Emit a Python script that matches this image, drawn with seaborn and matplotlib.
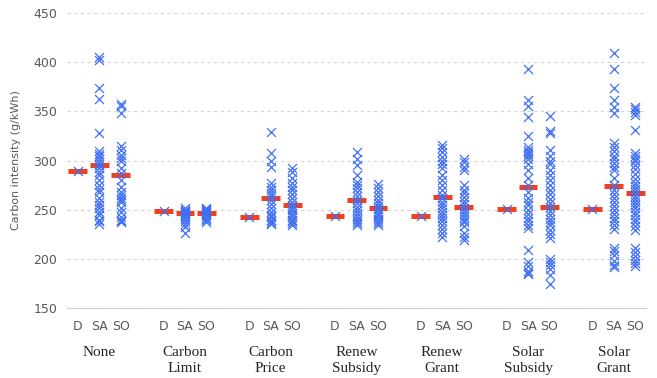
import pandas as pd
import matplotlib.pyplot as plt
import matplotlib.transforms as mtransforms
import seaborn as sns

# Groups and sub categories
groups = ['None', 'Carbon\nLimit', 'Carbon\nPrice', 'Renew\nSubsidy', 'Renew\nGrant', 'Solar\nSubsidy', 'Solar\nGrant']
subs = ['D', 'SA', 'SO']

# Scenario results (g/kWh)
none_d = [289]
none_sa = [405, 402, 374, 363, 328, 310, 307, 305, 302, 298, 295, 292, 288, 285, 280, 275,
           271, 268, 262, 258, 255, 252, 248, 245, 240, 238, 235]
none_so = [357, 355, 348, 315, 311, 306, 303, 300, 292, 287, 280, 273, 268, 265, 262, 260,
           258, 252, 248, 243, 240, 238, 237]
climit_d = [249]
climit_sa = [252, 250, 249, 248, 247, 246, 245, 244, 243, 241, 238, 235, 232, 226]
climit_so = [252, 251, 250, 249, 248, 247, 246, 245, 243, 241, 239, 237]
cprice_d = [243]
cprice_sa = [329, 308, 300, 293, 277, 273, 270, 267, 264, 260, 256, 252, 248, 245, 243, 240,
             238, 236, 235]
cprice_so = [292, 288, 282, 277, 273, 270, 266, 262, 258, 255, 252, 250, 247, 245, 243, 240,
             238, 236, 234]
rsub_d = [244]
rsub_sa = [309, 302, 295, 285, 278, 275, 272, 268, 264, 260, 257, 253, 250, 247, 244, 241,
           238, 236, 234]
rsub_so = [276, 272, 268, 264, 260, 257, 254, 251, 248, 246, 244, 241, 238, 236, 234]
rgrant_d = [244]
rgrant_sa = [316, 313, 309, 304, 300, 296, 292, 285, 280, 275, 270, 265, 262, 258, 255, 252,
             248, 245, 242, 238, 234, 230, 226, 222]
rgrant_so = [302, 298, 293, 290, 275, 270, 267, 263, 259, 256, 252, 249, 246, 243, 240, 237,
             233, 226, 222, 219]
ssub_d = [251]
ssub_sa = [393, 362, 355, 344, 325, 314, 311, 309, 307, 305, 302, 296, 290, 282, 275, 268,
           262, 258, 255, 250, 246, 242, 238, 234, 231, 209, 197, 193, 188, 186, 185]
ssub_so = [345, 330, 328, 311, 305, 300, 296, 290, 285, 280, 275, 270, 266, 261, 257, 253,
           249, 245, 241, 237, 234, 229, 225, 221, 200, 197, 194, 190, 184, 174]
sgrant_d = [251]
sgrant_sa = [409, 393, 374, 362, 354, 348, 318, 314, 310, 305, 302, 297, 293, 290, 282, 275,
             270, 266, 262, 258, 254, 250, 246, 242, 238, 234, 230, 211, 208, 204, 198, 194, 192]
sgrant_so = [354, 352, 349, 346, 331, 308, 305, 302, 299, 295, 291, 286, 281, 277, 274, 271,
             268, 264, 261, 258, 255, 252, 248, 245, 241, 237, 233, 229, 211, 207, 203, 199,
             196, 193]

# average bars (red)
means = [289, 295, 285,
         249, 247, 247,
         243, 262, 255,
         244, 260, 252,
         244, 263, 253,
         251, 273, 253,
         251, 274, 267]

series = [none_d, none_sa, none_so, climit_d, climit_sa, climit_so,
          cprice_d, cprice_sa, cprice_so, rsub_d, rsub_sa, rsub_so,
          rgrant_d, rgrant_sa, rgrant_so, ssub_d, ssub_sa, ssub_so,
          sgrant_d, sgrant_sa, sgrant_so]

# slot positions: 3 columns per group plus one empty slot between groups
pos = [g * 4 + s for g in range(len(groups)) for s in range(3)]

rows = []
for p, vals in zip(pos, series):
    for v in vals:
        rows.append({'x': p, 'value': v})
df = pd.DataFrame(rows)

sns.set_style('white')
fig = plt.figure(figsize=(6.57, 3.78), dpi=100)
ax = fig.add_axes([67 / 657, 70 / 378, 579 / 657, 295 / 378])

sns.scatterplot(data=df, x='x', y='value', marker='x', color='#4170f2', s=42,
                linewidth=0.9, ax=ax, zorder=3, legend=False)
ax.hlines(means, [p - 0.44 for p in pos], [p + 0.44 for p in pos],
          color='#f0401e', linewidth=3.6, zorder=2)

ax.set_xlim(-0.5, 26.5)
ax.set_ylim(150, 450)
ax.set_yticks(range(150, 451, 50))
ax.yaxis.grid(True, linestyle=(0, (3, 3)), color='#d6d6d6', linewidth=0.8)
ax.set_axisbelow(True)
for side in ['left', 'right', 'top']:
    ax.spines[side].set_visible(False)
ax.spines['bottom'].set_color('#d0d0d0')
ax.tick_params(axis='y', length=0, labelsize=9, labelcolor='#595959', pad=7)
ax.set_xticks(pos)
ax.set_xticklabels(subs * len(groups))
ax.tick_params(axis='x', length=0, labelsize=9, labelcolor='#595959', pad=9)
ax.set_xlabel('')
ax.set_ylabel('Carbon intensity (g/kWh)', fontsize=8, color='#595959', labelpad=9)

trans = mtransforms.blended_transform_factory(ax.transData, fig.transFigure)
for g, name in enumerate(groups):
    ax.text(g * 4 + 1, 1 - 346 / 378, name, transform=trans, ha='center', va='top',
            fontsize=11, family='Liberation Serif', linespacing=1.3)

fig.savefig('out.png', dpi=100)
